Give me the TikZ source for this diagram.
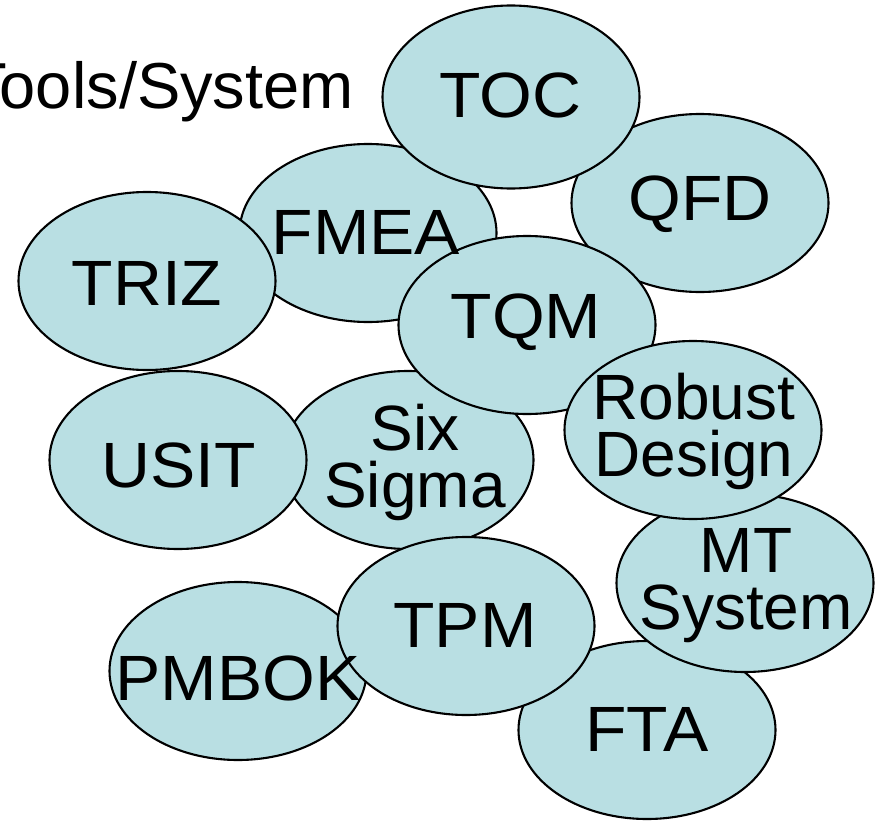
\documentclass[tikz,border=0pt]{standalone}
\usepackage{fontspec}
\setmainfont{Liberation Sans}
\newfontfamily\widefont[FakeStretch=1.06]{Liberation Sans}
\usetikzlibrary{shapes.geometric}
\definecolor{paleblue}{HTML}{B9DFE3}

\begin{document}
\begin{tikzpicture}[x=1pt,y=-1pt,
  blob/.style={ellipse,draw=black,line width=2.1pt,fill=paleblue,
    minimum width=257pt,minimum height=178pt,inner sep=0pt},
  lbl/.style={font=\fontsize{64}{57}\selectfont,align=center,inner sep=0pt},
  caps/.style={lbl,font=\widefont\fontsize{64}{57}\selectfont}]
\useasboundingbox (0,0) rectangle (876,822);
% ellipses, back to front
\node[blob] (qfd) at (700,203) {};
\node[blob] (fmea) at (368,233) {};
\node[blob,minimum height=183pt] (toc) at (511,97) {};
\node[blob] (triz) at (147,281) {};
\node[blob,minimum width=251pt] (six) at (408,460) {};
\node[blob] (usit) at (178,460) {};
\node[blob] (fta) at (647,730) {};
\node[blob] (mt) at (745,583) {};
\node[blob] (pmbok) at (238,671) {};
\node[blob] (tpm) at (466,626) {};
\node[blob] (tqm) at (527,325) {};
\node[blob] (robust) at (693,430) {};
% labels on top
\node[lbl,font=\fontsize{65}{65}\selectfont,anchor=base east] (title) at (354,108) {Tools/System};
\node[caps] (qfd-t) at (700,204) {QFD};
\node[caps] (fmea-t) at (366,232) {FMEA};
\node[caps] (toc-t) at (510,95) {TOC};
\node[caps] (triz-t) at (147,283) {TRIZ};
\node[lbl] (six-t) at (415,462) {Six\\Sigma};
\node[caps] (usit-t) at (179,465) {USIT};
\node[caps] (fta-t) at (647,729) {FTA};
\node[lbl] (mt-t) at (746,586) {MT\\System};
\node[caps] (pmbok-t) at (238,678) {PMBOK};
\node[caps] (tpm-t) at (465,625) {TPM};
\node[caps] (tqm-t) at (526,322) {TQM};
\node[lbl] (robust-t) at (694,431) {Robust\\Design};
\end{tikzpicture}
\end{document}
